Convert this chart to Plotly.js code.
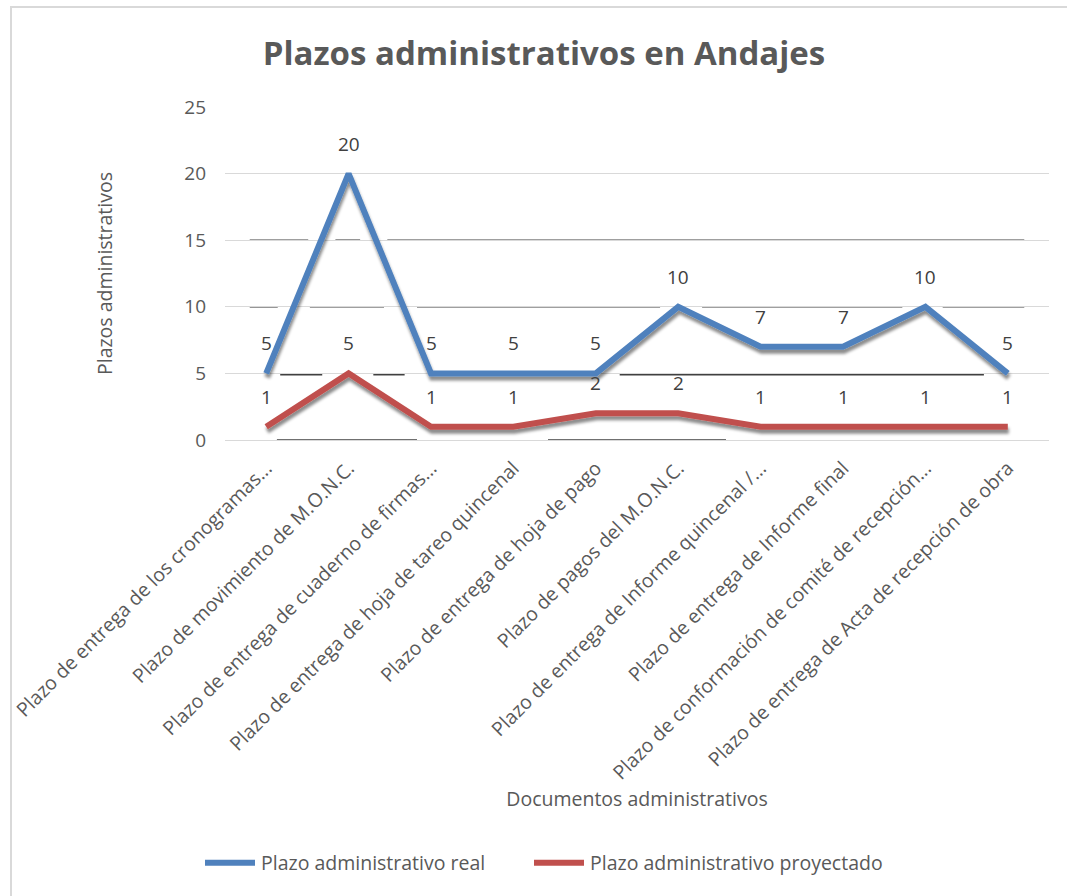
<!DOCTYPE html>
<html>
<head>
<meta charset="utf-8">
<script src="https://cdn.plot.ly/plotly-3.0.1.min.js"></script>
<style>
  html, body { margin: 0; padding: 0; background: #ffffff; }
  #chart { width: 1067px; height: 896px; position: relative; }
  #frame { position: absolute; left: 10px; top: 6px; width: 1100px; height: 960px;
           border: 2px solid #D9D9D9; pointer-events: none; box-sizing: border-box; }
</style>
</head>
<body>
<div id="chart"></div>
<div id="frame"></div>
<script>
// ---- data ----
const categories = [
  "Plazo de entrega de los cronogramas...",
  "Plazo de movimiento de M.O.N.C.",
  "Plazo de entrega de cuaderno de firmas...",
  "Plazo de entrega de hoja de tareo quincenal",
  "Plazo de entrega de hoja de pago",
  "Plazo de pagos del M.O.N.C.",
  "Plazo de entrega de Informe quincenal /...",
  "Plazo de entrega de Informe final",
  "Plazo de conformación de comité de recepción...",
  "Plazo de entrega de Acta de recepción de obra"
];
const realValues = [5, 20, 5, 5, 5, 10, 7, 7, 10, 5];
const projectedValues = [1, 5, 1, 1, 2, 2, 1, 1, 1, 1];
const seriesNames = ["Plazo administrativo real", "Plazo administrativo proyectado"];
const yTicks = [0, 5, 10, 15, 20, 25];

const FONT = "'Open Sans', sans-serif";
const GRAY = "#595959";

const traces = [
  { x: categories, y: realValues, name: seriesNames[0], type: "scatter", mode: "lines",
    line: { color: "#4F81BD", width: 6 } },
  { x: categories, y: projectedValues, name: seriesNames[1], type: "scatter", mode: "lines",
    line: { color: "#C0504D", width: 6 } }
];

const annotations = [];
[realValues, projectedValues].forEach(vals => {
  vals.forEach((v, i) => {
    annotations.push({ x: categories[i], y: v, xref: "x", yref: "y", text: String(v),
      showarrow: false, yshift: 30, font: { family: FONT, size: 19, color: "#404040" } });
  });
});

// stray dark rule segments visible in the reference picture
function seg(x0, x1, y) {
  return { type: "line", xref: "paper", yref: "y", x0: x0, x1: x1, y0: y, y1: y,
           layer: "below", line: { color: "#404040", width: 1.5 } };
}
const shapes = [
  seg(0.030, 0.101, 15), seg(0.134, 0.164, 15), seg(0.197, 0.970, 15),
  seg(0.030, 0.064, 10), seg(0.103, 0.193, 10), seg(0.233, 0.528, 10), seg(0.579, 0.822, 10), seg(0.871, 0.970, 10),
  seg(0.067, 0.118, 4.9), seg(0.180, 0.218, 4.9), seg(0.479, 0.921, 4.9),
  seg(0.063, 0.233, 0), seg(0.392, 0.608, 0)
];

const layout = {
  width: 1067, height: 896,
  margin: { l: 225, r: 18, t: 107, b: 456 },
  paper_bgcolor: "#ffffff", plot_bgcolor: "#ffffff",
  font: { family: FONT, color: GRAY, size: 19 },
  title: { text: "Plazos administrativos en Andajes", xref: "container", yref: "container",
           x: 544 / 1067, xanchor: "center", y: 1 - 53 / 896, yanchor: "middle",
           font: { family: FONT, size: 33, weight: "bold", color: GRAY } },
  xaxis: { type: "category", range: [-0.5, 9.5], tickangle: -45, showgrid: false, zeroline: false, showline: false,
           ticks: "", ticklabelstandoff: 12, tickfont: { family: FONT, size: 19.5, color: GRAY },
           title: { text: "Documentos administrativos", standoff: 0,
                    font: { family: FONT, size: 19.5, color: GRAY } } },
  yaxis: { range: [0, 25], tickvals: yTicks, showgrid: true, gridcolor: "#D9D9D9", gridwidth: 1,
           zeroline: true, zerolinecolor: "#D9D9D9", zerolinewidth: 1, showline: false,
           ticks: "", ticklabelstandoff: 18, tickfont: { family: FONT, size: 19, color: GRAY },
           title: { text: "Plazos administrativos", standoff: 66,
                    font: { family: FONT, size: 19.5, color: GRAY } } },
  showlegend: true,
  legend: { orientation: "h", xref: "container", yref: "container",
            x: 202 / 1067, xanchor: "left", y: 1 - 863 / 896, yanchor: "middle",
            font: { family: FONT, size: 19.5, color: GRAY }, itemwidth: 49, entrywidth: 265 },
  annotations: annotations,
  shapes: shapes
};

Plotly.newPlot("chart", traces, layout, { displayModeBar: false, staticPlot: true }).then(gd => {
  const svg = gd.querySelector("svg.main-svg");
  const ns = "http://www.w3.org/2000/svg";
  let defs = svg.querySelector("defs");
  if (!defs) { defs = document.createElementNS(ns, "defs"); svg.insertBefore(defs, svg.firstChild); }
  const f = document.createElementNS(ns, "filter");
  f.setAttribute("id", "lineshadow");
  f.setAttribute("x", "-10%"); f.setAttribute("y", "-10%");
  f.setAttribute("width", "120%"); f.setAttribute("height", "140%");
  f.innerHTML = '<feGaussianBlur in="SourceAlpha" stdDeviation="1.6" result="b"/>' +
                '<feOffset in="b" dx="1" dy="4" result="o"/>' +
                '<feFlood flood-color="#000" flood-opacity="0.45" result="c"/>' +
                '<feComposite in="c" in2="o" operator="in" result="s"/>' +
                '<feMerge><feMergeNode in="s"/><feMergeNode in="SourceGraphic"/></feMerge>';
  defs.appendChild(f);
  gd.querySelectorAll(".scatterlayer .js-line").forEach(p => p.setAttribute("filter", "url(#lineshadow)"));
  // longer legend line samples, as in the reference
  gd.querySelectorAll(".legend .legendlines path").forEach(p => p.setAttribute("d", "M3,0h50"));
  // let the last legend entry show in full
  gd.querySelectorAll(".legend .scrollbox, .legend [clip-path]").forEach(el => el.removeAttribute("clip-path"));
});
</script>
</body>
</html>
